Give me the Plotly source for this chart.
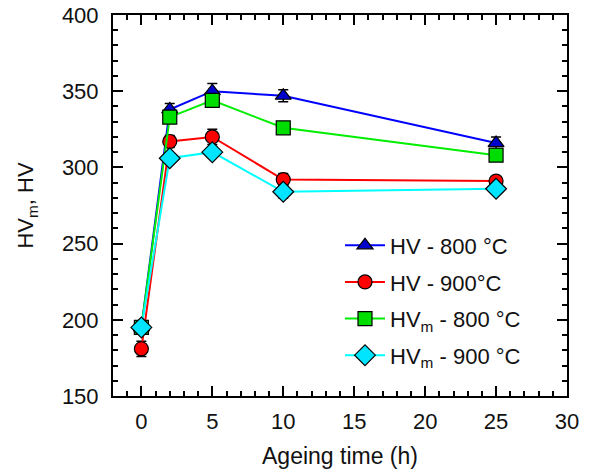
import plotly.graph_objects as go

time_h = [0, 2, 5, 10, 25]
hv_800 = [195, 338, 350, 347, 316]
hv_900 = [181, 317, 320, 292, 291]
hvm_800 = [195, 333, 344, 326, 308]
hvm_900 = [195, 306, 310, 284, 286]
err_hv_800 = [4, 4, 5, 4, 4]
err_hv_900 = [5, 4, 5, 4, 3]
err_hvm_800 = [3, 3, 3, 3, 3]
err_hvm_900 = [4, 3, 3, 4, 3]

series = [
    ("HV - 800 °C", hv_800, err_hv_800, "#0000ff", "triangle-up", "#0000cc"),
    ("HV - 900°C", hv_900, err_hv_900, "#ff0000", "circle", "#ff0000"),
    ("HV<sub>m</sub> - 800 °C", hvm_800, err_hvm_800, "#00ee00", "square", "#00dd00"),
    ("HV<sub>m</sub> - 900 °C", hvm_900, err_hvm_900, "#00ffff", "diamond", "#00e5ff"),
]

FONT = "Liberation Sans, Arial, sans-serif"

fig = go.Figure()
for i, (name, ys, es, lc, sym, fc) in enumerate(series):
    fig.add_trace(go.Scatter(
        x=time_h, y=ys, name=name, mode="lines+markers", legendgroup=f"g{i}",
        line=dict(color=lc, width=2),
        marker=dict(symbol=sym, size=14 if sym != "diamond" else 16, color=fc,
                    line=dict(color="black", width=1.2)),
        error_y=dict(type="data", array=es, color="black", thickness=1.5, width=5),
    ))

axis_common = dict(
    showline=True, linecolor="black", linewidth=2, mirror="allticks",
    ticks="inside", ticklen=10, tickwidth=1.5, tickcolor="black",
    showgrid=False, zeroline=False, automargin=False,
    tickfont=dict(family=FONT, size=22, color="#111"),
)

fig.update_xaxes(range=[-2, 30], tick0=0, dtick=5, ticklabelstandoff=5,
                 minor=dict(dtick=1, ticks="inside", ticklen=5, tickwidth=1.5, tickcolor="black"),
                 title=dict(text="Ageing time (h)", font=dict(family=FONT, size=23, color="#111"), standoff=14),
                 **axis_common)
fig.update_yaxes(range=[150, 400], tick0=150, dtick=50, ticklabelstandoff=8,
                 minor=dict(dtick=10, ticks="inside", ticklen=5, tickwidth=1.5, tickcolor="black"),
                 title=dict(text="HV<sub>m</sub>, HV", font=dict(family=FONT, size=22, color="#111"), standoff=22),
                 **axis_common)

fig.update_layout(
    width=591, height=474,
    margin=dict(l=113, r=24, t=15, b=78),
    plot_bgcolor="white", paper_bgcolor="white",
    font=dict(family=FONT, color="#111"),
    legend=dict(x=0.5, y=0.45, xanchor="left", yanchor="top",
                bgcolor="rgba(255,255,255,0)", font=dict(size=22, color="#111"),
                tracegroupgap=5, itemwidth=40),
)

fig.write_html("out.html")
